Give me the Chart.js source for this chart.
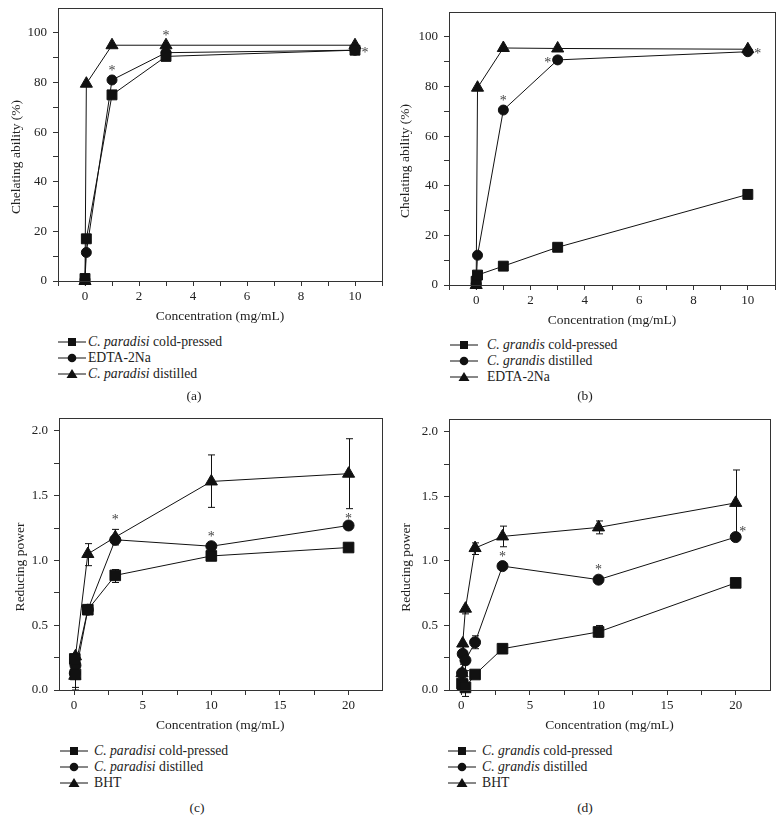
<!DOCTYPE html>
<html>
<head>
<meta charset="utf-8">
<script src="https://cdn.jsdelivr.net/npm/chart.js@4.4.1/dist/chart.umd.min.js"></script>
<style>
  body { margin: 0; background: #fff; font-family: "Liberation Serif", serif; color: #222; }
  #page { position: relative; width: 783px; height: 820px; overflow: hidden; }
  canvas { position: absolute; }
  .leg { position: absolute; font-size: 13.7px; }
  .leg div { height: 16px; line-height: 16px; white-space: nowrap; display: flex; align-items: center; }
  .tag { position: absolute; font-size: 13.5px; transform: translate(-50%, -50%); }
</style>
</head>
<body>
<div id="page">
  <canvas id="chA" width="390" height="331" style="left:0;top:0"></canvas>
  <canvas id="chB" width="393" height="335" style="left:390px;top:0"></canvas>
  <canvas id="chC" width="390" height="340" style="left:0;top:400px"></canvas>
  <canvas id="chD" width="393" height="340" style="left:390px;top:400px"></canvas>

  <div class="leg" id="legA" style="left:58px;top:334px"></div>
  <div class="leg" id="legB" style="left:450px;top:337px"></div>
  <div class="leg" id="legC" style="left:60px;top:743px"></div>
  <div class="leg" id="legD" style="left:448px;top:743px"></div>

  <div class="tag" style="left:194px;top:396px">(a)</div>
  <div class="tag" style="left:585px;top:396px">(b)</div>
  <div class="tag" style="left:197px;top:808px">(c)</div>
  <div class="tag" style="left:585px;top:808px">(d)</div>
</div>
<script>
// ---- data ----
// (a) chelating ability, C. paradisi
const concA = [0, 0.05, 1, 3, 10];
const aCold = [1, 17, 75, 90.5, 93];
const aEdta = [0.5, 11.5, 81, 92, 93];
const aDist = [0, 79.5, 95, 95, 95];
const starsA = [[1, 81, 'up'], [3, 95, 'up'], [10, 93, 'right']];

// (b) chelating ability, C. grandis
const concB = [0, 0.05, 1, 3, 10];
const bCold = [1.5, 4, 7.6, 15.2, 36.5];
const bDist = [0.5, 12, 70.5, 90.7, 94];
const bEdta = [0, 79.5, 95.5, 95.3, 95];
const starsB = [[1, 70.5, 'up'], [3, 90.7, 'left'], [10, 94, 'right']];

// (c) reducing power, C. paradisi
const concC = [0.05, 0.1, 1, 3, 10, 20];
const cCold = [0.24, 0.12, 0.62, 0.885, 1.035, 1.10];
const cDist = [0.13, 0.19, 0.62, 1.16, 1.11, 1.27];
const cBht  = [0.11, 0.26, 1.05, 1.18, 1.61, 1.67];
const cColdErr = [null, [0.02, 0.2], null, [0.83, 0.93], null, null];
const cDistErr = [null, null, null, null, null, null];
const cBhtErr  = [[0.0, 0.2], null, [0.96, 1.13], [1.12, 1.24], [1.41, 1.815], [1.40, 1.94]];
const starsC = [[3, 1.24, 'up'], [10, 1.11, 'up'], [20, 1.27, 'near']];

// (d) reducing power, C. grandis
const concD = [0.05, 0.1, 0.3, 1, 3, 10, 20];
const dCold = [0.05, 0.04, 0.02, 0.12, 0.32, 0.45, 0.83];
const dDist = [0.13, 0.28, 0.23, 0.37, 0.96, 0.855, 1.185];
const dBht  = [0.13, 0.36, 0.63, 1.10, 1.19, 1.26, 1.45];
const dColdErr = [null, null, [-0.05, 0.05], null, null, [0.41, 0.50], [0.81, 0.86]];
const dDistErr = [null, [0.2, 0.3], [0.15, 0.25], [0.32, 0.42], null, null, null];
const dBhtErr  = [null, [0.22, 0.36], [0.59, 0.63], [1.05, 1.14], [1.11, 1.27], [1.21, 1.31], [1.21, 1.705]];
const starsD = [[3, 0.96, 'up'], [10, 0.855, 'up'], [20, 1.185, 'upright']];

// ticks (majors get labels, the rest are minor marks)
const xTicksAB = [-1, 0, 1, 2, 3, 4, 5, 6, 7, 8, 9, 10, 11];
const xMajorAB = [0, 2, 4, 6, 8, 10];
const yTicksAB = [0, 10, 20, 30, 40, 50, 60, 70, 80, 90, 100];
const yMajorAB = [0, 20, 40, 60, 80, 100];
const xTicksCD = [0, 2.5, 5, 7.5, 10, 12.5, 15, 17.5, 20];
const xMajorCD = [0, 5, 10, 15, 20];
const yTicksCD = [0, 0.25, 0.5, 0.75, 1, 1.25, 1.5, 1.75, 2];
const yMajorCD = [0, 0.5, 1, 1.5, 2];

const INK = '#111';
Chart.defaults.font.family = "'Liberation Serif', serif";
Chart.defaults.font.size = 13;
Chart.defaults.color = '#222';

// frame round the plot area
const framePlugin = {
  id: 'frame',
  afterDraw(chart) {
    const a = chart.chartArea, ctx = chart.ctx;
    ctx.save();
    ctx.strokeStyle = '#333';
    ctx.lineWidth = 1;
    ctx.strokeRect(Math.round(a.left) + 0.5, Math.round(a.top) + 0.5, Math.round(a.right - a.left), Math.round(a.bottom - a.top));
    ctx.restore();
  }
};

// vertical error bars with a cap at each end
const errPlugin = {
  id: 'errbars',
  beforeDatasetsDraw(chart) {
    const ctx = chart.ctx, xs = chart.scales.x, ys = chart.scales.y;
    ctx.save();
    ctx.strokeStyle = INK;
    ctx.lineWidth = 1;
    chart.data.datasets.forEach(ds => {
      if (!ds.errorBars) return;
      ds.errorBars.forEach((e, i) => {
        if (!e) return;
        const px = Math.round(xs.getPixelForValue(ds.data[i].x)) + 0.5;
        const lo = ys.getPixelForValue(e[0]), hi = ys.getPixelForValue(e[1]);
        ctx.beginPath();
        ctx.moveTo(px, lo); ctx.lineTo(px, hi);
        ctx.moveTo(px - 3.5, hi); ctx.lineTo(px + 3.5, hi);
        ctx.moveTo(px - 3.5, lo); ctx.lineTo(px + 3.5, lo);
        ctx.stroke();
      });
    });
    ctx.restore();
  }
};

// significance asterisks and rotated y title
const notePlugin = {
  id: 'notes',
  afterDraw(chart, args, opts) {
    const ctx = chart.ctx, xs = chart.scales.x, ys = chart.scales.y;
    ctx.save();
    ctx.fillStyle = '#444';
    ctx.font = "14px 'Liberation Serif', serif";
    ctx.textAlign = 'center';
    ctx.textBaseline = 'middle';
    const off = { up: [0, -12], near: [0, -9], right: [10, 0], left: [-10, 0], upright: [7, -8] };
    (opts.stars || []).forEach(s => {
      const o = off[s[2]];
      ctx.fillText('*', xs.getPixelForValue(s[0]) + o[0], ys.getPixelForValue(s[1]) + o[1] + 3);
    });
    ctx.fillStyle = '#222';
    ctx.font = "13.5px 'Liberation Serif', serif";
    ctx.translate(opts.titleX, ys.getPixelForValue(opts.titleMid));
    ctx.rotate(-Math.PI / 2);
    ctx.fillText(opts.title, 0, 0);
    ctx.restore();
  }
};

function series(xs, ys, style, radius, err) {
  return {
    data: xs.map((x, i) => ({ x: x, y: ys[i] })),
    errorBars: err || null,
    borderColor: INK,
    backgroundColor: INK,
    borderWidth: 1,
    pointStyle: style,
    pointRadius: radius,
    pointBackgroundColor: INK,
    pointBorderColor: INK,
    pointBorderWidth: 1,
    tension: 0,
    clip: false
  };
}

function makeChart(id, o) {
  return new Chart(document.getElementById(id), {
    type: 'scatter',
    data: { datasets: o.datasets.map(d => Object.assign(d, { showLine: true })) },
    plugins: [framePlugin, errPlugin, notePlugin],
    options: {
      responsive: false,
      animation: false,
      devicePixelRatio: 1,
      layout: { padding: { top: o.padTop, right: o.padRight, left: 0, bottom: 0 } },
      plugins: {
        legend: { display: false },
        tooltip: { enabled: false },
        notes: { stars: o.stars, title: o.yTitle, titleX: o.titleX, titleMid: o.titleMid }
      },
      scales: {
        x: {
          type: 'linear', min: o.xMin, max: o.xMax,
          afterBuildTicks: s => { s.ticks = o.xTicks.map(v => ({ value: v })); },
          afterFit: s => { s.height = 50; s.paddingLeft = 0; s.paddingRight = 0; },
          ticks: { autoSkip: false, maxRotation: 0, padding: 3, color: '#222',
                   callback: v => o.xMajor.includes(v) ? String(v) : '' },
          grid: { drawOnChartArea: false, tickLength: 5, tickColor: '#333' },
          border: { color: '#333' },
          title: { display: true, text: 'Concentration (mg/mL)', padding: { top: 0, bottom: 6 },
                   color: '#222', font: { size: 13.5 } }
        },
        y: {
          type: 'linear', min: o.yMin, max: o.yMax,
          afterBuildTicks: s => { s.ticks = o.yTicks.map(v => ({ value: v })); },
          afterFit: s => { s.width = o.yWidth; s.paddingTop = 0; s.paddingBottom = 0; },
          ticks: { autoSkip: false, padding: 6, color: '#222',
                   callback: v => o.yMajor.includes(v) ? o.yFmt(v) : '' },
          grid: { drawOnChartArea: false, tickLength: 5, tickColor: '#333' },
          border: { color: '#333' }
        }
      }
    }
  });
}

makeChart('chA', {
  datasets: [
    series(concA, aCold, 'rect', 7),
    series(concA, aEdta, 'circle', 5),
    series(concA, aDist, 'triangle', 7)
  ],
  stars: starsA, yTitle: 'Chelating ability (%)', titleX: 16, titleMid: 50,
  padTop: 8, padRight: 8, yWidth: 58,
  xMin: -1, xMax: 11, xTicks: xTicksAB, xMajor: xMajorAB,
  yMin: 0, yMax: 110, yTicks: yTicksAB, yMajor: yMajorAB, yFmt: v => String(v)
});

makeChart('chB', {
  datasets: [
    series(concB, bCold, 'rect', 7),
    series(concB, bDist, 'circle', 5),
    series(concB, bEdta, 'triangle', 7)
  ],
  stars: starsB, yTitle: 'Chelating ability (%)', titleX: 15, titleMid: 50,
  padTop: 12, padRight: 8, yWidth: 59,
  xMin: -1, xMax: 11, xTicks: xTicksAB, xMajor: xMajorAB,
  yMin: 0, yMax: 110, yTicks: yTicksAB, yMajor: yMajorAB, yFmt: v => String(v)
});

makeChart('chC', {
  datasets: [
    series(concC, cCold, 'rect', 7.5, cColdErr),
    series(concC, cDist, 'circle', 5.5, cDistErr),
    series(concC, cBht, 'triangle', 7, cBhtErr)
  ],
  stars: starsC, yTitle: 'Reducing power', titleX: 20, titleMid: 0.95,
  padTop: 18, padRight: 7, yWidth: 59,
  xMin: -1.1, xMax: 22.4, xTicks: xTicksCD, xMajor: xMajorCD,
  yMin: 0, yMax: 2.1, yTicks: yTicksCD, yMajor: yMajorCD, yFmt: v => v.toFixed(1)
});

makeChart('chD', {
  datasets: [
    series(concD, dCold, 'rect', 7.5, dColdErr),
    series(concD, dDist, 'circle', 5.5, dDistErr),
    series(concD, dBht, 'triangle', 7, dBhtErr)
  ],
  stars: starsD, yTitle: 'Reducing power', titleX: 16, titleMid: 0.95,
  padTop: 19, padRight: 13, yWidth: 59,
  xMin: -0.9, xMax: 22.5, xTicks: xTicksCD, xMajor: xMajorCD,
  yMin: 0, yMax: 2.1, yTicks: yTicksCD, yMajor: yMajorCD, yFmt: v => v.toFixed(1)
});

// ---- legends (HTML so the genus names can be italic) ----
const MARK = {
  rect: '<rect x="10" y="4" width="8" height="8" fill="#111"/>',
  circle: '<circle cx="14" cy="8" r="4.3" fill="#111"/>',
  triangle: '<polygon points="14,3 19.5,12 8.5,12" fill="#111"/>'
};
function legend(id, rows, gap) {
  document.getElementById(id).innerHTML = rows.map(r =>
    '<div><svg width="28" height="16"><line x1="0" y1="8" x2="28" y2="8" stroke="#111" stroke-width="1"/>' +
    MARK[r[0]] + '</svg><span style="margin-left:' + gap + 'px">' + r[1] + '</span></div>').join('');
}
legend('legA', [['rect', '<i>C. paradisi</i> cold-pressed'], ['circle', 'EDTA-2Na'], ['triangle', '<i>C. paradisi</i> distilled']], 2);
legend('legB', [['rect', '<i>C. grandis</i> cold-pressed'], ['circle', '<i>C. grandis</i> distilled'], ['triangle', 'EDTA-2Na']], 9);
legend('legC', [['rect', '<i>C. paradisi</i> cold-pressed'], ['circle', '<i>C. paradisi</i> distilled'], ['triangle', 'BHT']], 6);
legend('legD', [['rect', '<i>C. grandis</i> cold-pressed'], ['circle', '<i>C. grandis</i> distilled'], ['triangle', 'BHT']], 6);
</script>
</body>
</html>
